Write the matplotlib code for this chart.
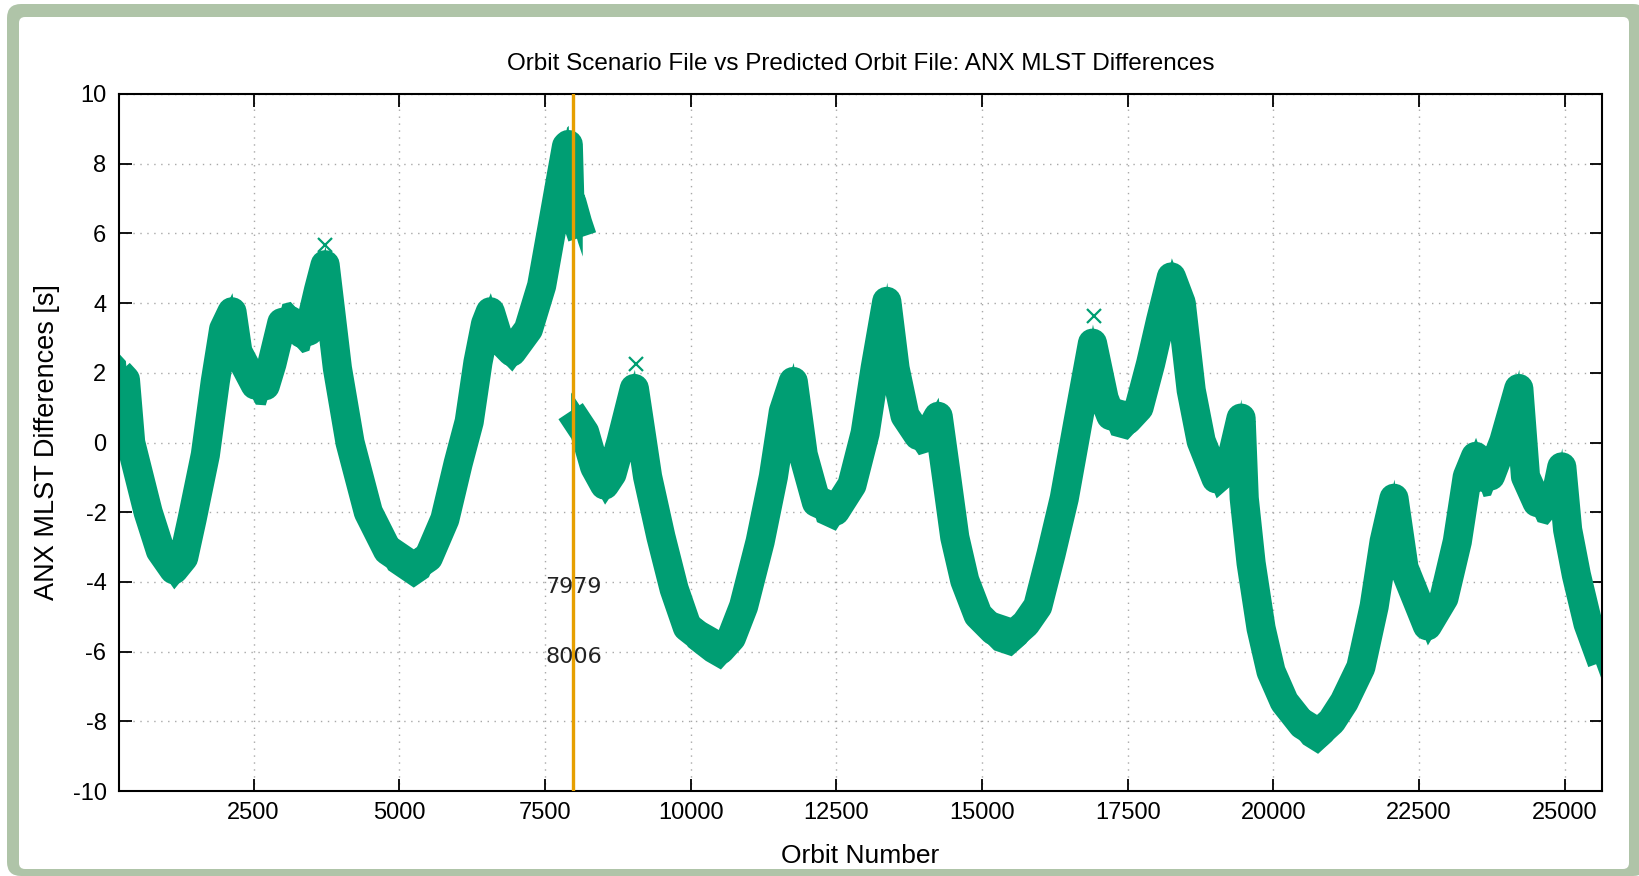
import numpy as np
import matplotlib.pyplot as plt
from matplotlib.patches import FancyBboxPatch
from matplotlib.transforms import IdentityTransform

plt.rcParams['axes.unicode_minus'] = False

# segment before the orbit file change (orbit, centre of the band)
orbit_a = [190, 300, 390, 690, 900, 1130, 1300, 1444, 1672, 1843, 1986, 2129,
           2230, 2529, 2700, 2814, 2985, 3128, 3328, 3450, 3613, 3727, 3938,
           4155, 4469, 4800, 5240, 5500, 5782, 6010, 6200, 6350, 6480, 6562,
           6700, 6932, 7216, 7443, 7614, 7784, 7870, 7900, 7935, 7960, 8060, 8140]
diff_a = [2.0, 1.8, 0.0, -2.0, -3.1, -3.65, -3.3, -2.2, -0.35, 1.76, 3.25, 3.75,
          2.6, 1.65, 1.63, 2.26, 3.44, 3.5, 3.13, 3.2, 4.37, 5.1, 2.13,
          0.0, -2.0, -3.1, -3.6, -3.3, -2.2, -0.6, 0.6, 2.3, 3.4, 3.75,
          3.0, 2.6, 3.25, 4.5, 6.1, 7.7, 8.5, 8.55, 6.4, 6.9, 6.3, 5.9]

# segment after the change
orbit_b = [7940, 8182, 8352, 8523, 8650, 8807, 9034, 9261, 9489, 9716, 9943,
           10057, 10250, 10511, 10700, 10909, 11193, 11420, 11591, 11761, 11932,
           12159, 12483, 12768, 12995, 13166, 13366, 13508, 13679, 13907, 14100,
           14248, 14391, 14533, 14704, 14932, 15200, 15501, 15750, 15957, 16185,
           16412, 16640, 16896, 17096, 17210, 17494, 17694, 17893, 18064, 18250,
           18419, 18590, 18761, 19018, 19250, 19446, 19500, 19618, 19789, 19960,
           20188, 20500, 20759, 21000, 21216, 21501, 21730, 21901, 22070, 22243,
           22643, 22928, 23157, 23328, 23470, 23600, 23727, 23956, 24212, 24327,
           24526, 24700, 24850, 24950, 25050, 25200, 25400, 25640]
diff_b = [0.9, 0.29, -0.7, -1.22, -0.9, 0.04, 1.55, -0.98, -2.7, -4.2, -5.3,
          -5.45, -5.7, -5.95, -5.6, -4.7, -2.84, -0.98, 0.89, 1.75, -0.35,
          -1.72, -1.97, -1.22, 0.27, 2.13, 4.05, 2.13, 0.77, 0.2, 0.3,
          0.75, -0.98, -2.72, -3.96, -4.95, -5.4, -5.57, -5.2, -4.7, -3.2,
          -1.6, 0.52, 2.85, 1.26, 0.77, 0.64, 1.0, 2.26, 3.5, 4.75,
          4.0, 1.5, 0.04, -1.04, -0.7, 0.7, -1.6, -3.46, -5.33, -6.57,
          -7.44, -8.1, -8.37, -8.0, -7.44, -6.45, -4.7, -2.84, -1.6, -3.6,
          -5.26, -4.46, -2.84, -0.98, -0.4, -1.0, -0.96, 0.04, 1.55, -0.98,
          -1.72, -1.8, -1.5, -0.7, -2.5, -3.8, -5.2, -6.3]

# single points sticking out above the band
peak_orbit = [3727, 9063, 16925]
peak_diff = [5.68, 2.26, 3.62]

change_orbits = [7979, 8006]
change_label_y = [-4.15, -6.15]

green = '#009e73'
orange = '#e69f00'
font = 'Liberation Sans'

fig = plt.figure(figsize=(16.39, 8.76), dpi=100)
fig.patch.set_facecolor('white')

# rounded sage frame around the plot
frame = FancyBboxPatch((7, 0), 1640, 872, boxstyle='round,pad=0,rounding_size=14',
                       transform=IdentityTransform(), facecolor='#afc4a8',
                       edgecolor='none', zorder=-10)
inner = FancyBboxPatch((19, 7), 1610, 852, boxstyle='round,pad=0,rounding_size=6',
                       transform=IdentityTransform(), facecolor='white',
                       edgecolor='none', zorder=-9)
fig.patches.extend([frame, inner])

ax = fig.add_axes([119 / 1639, 85 / 876, (1602 - 119) / 1639, (791 - 94) / 876])
ax.set_facecolor('none')

for xs, ys in [(orbit_a, diff_a), (orbit_b, diff_b)]:
    xs = np.array(xs)
    ys = np.array(ys)
    ax.fill_between(xs, ys - 0.55, ys + 0.55, color=green, lw=0, zorder=2)
    ax.plot(xs, ys, color=green, lw=21, solid_joinstyle='round',
            solid_capstyle='butt', zorder=2)
ax.plot(peak_orbit, peak_diff, 'x', color=green, ms=10, mew=1.6, zorder=2)

for xo in change_orbits:
    ax.axvline(xo, color=orange, lw=1.7, zorder=3)
for xo, yl in zip(change_orbits, change_label_y):
    ax.text(np.mean(change_orbits), yl, str(xo), ha='center', va='center',
            fontsize=16, family='DejaVu Sans', color='#222222', zorder=4)

ax.set_xlim(190, 25640)
ax.set_ylim(-10, 10)
ax.set_xticks(np.arange(2500, 25001, 2500))
ax.set_yticks(np.arange(-10, 11, 2))
ax.grid(True, color='#a8a8a8', linestyle=(0, (1, 4)), lw=1.0, zorder=0)
ax.set_axisbelow(True)
ax.tick_params(direction='in', length=9, width=1.3, top=True, right=True,
               labelsize=17, colors='black')
ax.tick_params(axis='x', pad=8)
ax.tick_params(axis='y', pad=9)
for lab in ax.get_xticklabels() + ax.get_yticklabels():
    lab.set_family(font)
for s in ax.spines.values():
    s.set_linewidth(1.5)

ax.set_title('Orbit Scenario File vs Predicted Orbit File: ANX MLST Differences',
             fontsize=17.5, family=font, pad=17)
ax.set_xlabel('Orbit Number', fontsize=19, family=font)
ax.set_ylabel('ANX MLST Differences [s]', fontsize=19.5, family=font)
ax.xaxis.set_label_coords(0.5, -0.076)
ax.yaxis.set_label_coords(-0.040, 0.5)

fig.savefig('out.png', dpi=100, facecolor=fig.get_facecolor())
